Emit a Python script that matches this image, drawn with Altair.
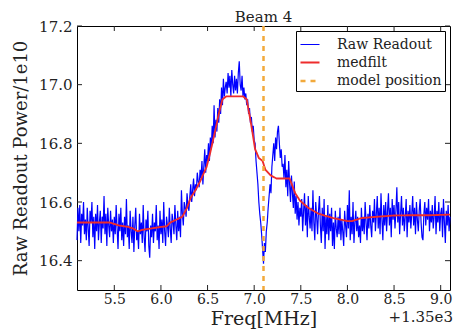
import altair as alt
import pandas as pd

# Raw readout (offset frequency in MHz, sampled every 0.01 MHz from 5.10)
raw_power = [
    16.47, 16.58, 16.50, 16.59, 16.46, 16.56, 16.52, 16.60, 16.49, 16.54,
    16.47, 16.58, 16.51, 16.45, 16.57, 16.53, 16.60, 16.48, 16.55, 16.44,
    16.56, 16.50, 16.59, 16.47, 16.53, 16.57, 16.46, 16.55, 16.51, 16.62,
    16.49, 16.56, 16.45, 16.58, 16.52, 16.48, 16.57, 16.50, 16.54, 16.46,
    16.55, 16.49, 16.59, 16.51, 16.44, 16.56, 16.50, 16.58, 16.47, 16.53,
    16.45, 16.55, 16.49, 16.61, 16.48, 16.52, 16.44, 16.57, 16.50, 16.46,
    16.55, 16.43, 16.52, 16.58, 16.47, 16.50, 16.44, 16.56, 16.49, 16.53,
    16.46, 16.59, 16.48, 16.43, 16.54, 16.50, 16.57, 16.45, 16.41, 16.52,
    16.48, 16.56, 16.46, 16.53, 16.50, 16.59, 16.47, 16.52, 16.44, 16.57,
    16.49, 16.54, 16.46, 16.60, 16.50, 16.45, 16.55, 16.52, 16.48, 16.58,
    16.51, 16.46, 16.56, 16.53, 16.49, 16.59, 16.52, 16.47, 16.57, 16.50,
    16.55,
    16.48, 16.64, 16.56, 16.52, 16.60, 16.58, 16.55, 16.63, 16.59, 16.57,
    16.62, 16.66, 16.60, 16.64, 16.68, 16.62, 16.66, 16.64, 16.70, 16.67,
    16.65, 16.71, 16.68, 16.74, 16.66, 16.72, 16.78, 16.70, 16.76, 16.74,
    16.80, 16.74, 16.82, 16.78, 16.86, 16.80, 16.93, 16.82, 16.88, 16.84,
    16.92, 16.87, 16.95, 16.90, 16.99, 16.93, 17.02, 16.96, 16.99, 17.01,
    16.97, 17.04, 16.99, 17.03, 16.96, 17.05, 17.00, 16.97, 17.03, 16.98,
    17.02, 16.97, 17.04, 17.08, 17.00, 16.98, 17.03, 16.96, 16.99, 16.95,
    16.97, 16.93, 16.95, 16.90, 16.92, 16.87, 16.89, 16.84, 16.86, 16.81,
    16.80, 16.74, 16.70, 16.66, 16.60, 16.56, 16.53, 16.49, 16.44, 16.39,
    16.46, 16.43, 16.50, 16.53, 16.58, 16.62, 16.66, 16.63, 16.72, 16.76,
    16.80, 16.74, 16.82, 16.78, 16.84, 16.86, 16.80, 16.75, 16.78, 16.72,
    16.73, 16.68, 16.76, 16.65, 16.71, 16.62, 16.74, 16.66, 16.60, 16.69,
    16.63, 16.58, 16.67, 16.56, 16.62, 16.54, 16.60, 16.52, 16.58, 16.55,
    16.61, 16.50, 16.57, 16.63, 16.52, 16.59, 16.48, 16.62, 16.55, 16.51,
    16.58, 16.50, 16.64, 16.53, 16.47, 16.60, 16.55, 16.49, 16.57, 16.62,
    16.52, 16.46, 16.58, 16.50, 16.61, 16.44, 16.55, 16.49, 16.59, 16.47,
    16.56, 16.50, 16.58, 16.45, 16.53, 16.44, 16.57, 16.51, 16.48, 16.55,
    16.49, 16.58, 16.47, 16.54, 16.50, 16.45, 16.57, 16.52, 16.48, 16.59,
    16.51, 16.64, 16.47, 16.55, 16.49, 16.60, 16.46, 16.53, 16.57, 16.50,
    16.55, 16.48, 16.52, 16.46, 16.58, 16.50, 16.55, 16.49, 16.60, 16.53,
    16.47, 16.56, 16.51, 16.59, 16.52, 16.48, 16.57, 16.53, 16.61, 16.50,
    16.56, 16.62, 16.51, 16.58, 16.49, 16.63, 16.54, 16.47, 16.59, 16.52,
    16.60, 16.50, 16.57, 16.63, 16.52, 16.58, 16.48, 16.61, 16.54, 16.59,
    16.51, 16.57, 16.65, 16.53, 16.60, 16.49, 16.56, 16.62, 16.52, 16.58,
    16.50, 16.55, 16.61, 16.48, 16.57, 16.53, 16.59, 16.51, 16.56, 16.62,
    16.52, 16.58, 16.49, 16.60, 16.54, 16.50, 16.57, 16.61, 16.53, 16.48,
    16.47, 16.56, 16.60, 16.52, 16.58, 16.54, 16.61, 16.50, 16.57, 16.53,
    16.59, 16.51, 16.55, 16.62, 16.49, 16.57, 16.53, 16.60, 16.50, 16.56,
    16.58, 16.48, 16.61, 16.53, 16.46, 16.57, 16.52, 16.59, 16.50, 16.55,
]
raw_freq = [round(5.10 + 0.01 * i, 2) for i in range(len(raw_power))]

# Median-filtered curve
med_freq = [5.10, 5.30, 5.45, 5.50, 5.55, 5.65, 5.70, 5.75, 5.80, 5.90, 6.00,
            6.06, 6.10, 6.20, 6.23, 6.28, 6.32, 6.37, 6.42, 6.49, 6.53, 6.58,
            6.62, 6.66, 6.70, 6.88, 6.92, 6.97, 7.01, 7.05, 7.09, 7.12, 7.18,
            7.24, 7.38, 7.44, 7.49, 7.58, 7.69, 7.85, 8.00, 8.05, 8.15, 8.25,
            8.50, 8.70, 8.90, 9.10]
med_power = [16.530, 16.530, 16.530, 16.525, 16.520, 16.515, 16.510, 16.500,
             16.505, 16.510, 16.515, 16.517, 16.530, 16.545, 16.550, 16.580,
             16.615, 16.640, 16.670, 16.720, 16.770, 16.840, 16.900, 16.950,
             16.960, 16.960, 16.950, 16.860, 16.780, 16.750, 16.740, 16.710,
             16.690, 16.680, 16.680, 16.630, 16.605, 16.580, 16.560, 16.545,
             16.535, 16.535, 16.545, 16.548, 16.554, 16.555, 16.555, 16.557]

model_freq = [7.10]

series_names = ["Raw Readout", "medfilt", "model position"]
series_colors = ["#0000ff", "#ee2c2c", "#f2a93b"]
series_dash = [[1, 0], [1, 0], [5, 5]]
series_width = [1.2, 2.5, 2.5]

x_ticks = [5.5, 6.0, 6.5, 7.0, 7.5, 8.0, 8.5, 9.0]
y_ticks = [16.4, 16.6, 16.8, 17.0, 17.2]

W, H = 373, 264
FONT = "DejaVu Serif"

raw_df = pd.DataFrame({"freq": raw_freq, "power": raw_power, "series": "Raw Readout"})
med_df = pd.DataFrame({"freq": med_freq, "power": med_power, "series": "medfilt"})
model_df = pd.DataFrame({"freq": model_freq, "series": "model position"})
xt_df = pd.DataFrame({"xt": x_ticks})
yt_df = pd.DataFrame({"yt": y_ticks})

xscale = alt.Scale(domain=[5.1, 9.1], nice=False, zero=False)
yscale = alt.Scale(domain=[16.3, 17.2], nice=False, zero=False)

color = alt.Color("series:N", title=None,
                  scale=alt.Scale(domain=series_names, range=series_colors),
                  legend=alt.Legend(orient="top-right", offset=5, symbolType="stroke",
                                    symbolSize=361, labelFont=FONT, labelFontSize=14,
                                    labelColor="#222", strokeColor="black", fillColor="white",
                                    padding=3, rowPadding=-2, labelOffset=16, cornerRadius=0))
dash = alt.StrokeDash("series:N", title=None,
                      scale=alt.Scale(domain=series_names, range=series_dash))
swidth = alt.StrokeWidth("series:N", title=None,
                         scale=alt.Scale(domain=series_names, range=series_width))

xenc = alt.X("freq:Q", scale=xscale,
             axis=alt.Axis(values=x_ticks, format=".1f", title="Freq[MHz]",
                           labelFont=FONT, labelFontSize=14, labelColor="#222",
                           labelPadding=2, titleFont=FONT, titleFontSize=19,
                           titleFontWeight="normal", titleColor="#222",
                           titleBaseline="alphabetic", titleY=34,
                           domain=False, ticks=False, grid=False))
yaxis = alt.Axis(values=y_ticks, format=".1f", title="Raw Readout Power/1e10",
                 labelFont=FONT, labelFontSize=15, labelColor="#222", labelPadding=5,
                 titleFont=FONT, titleFontSize=18, titleFontWeight="normal",
                 titleColor="#222", titlePadding=8, domain=False, ticks=False, grid=False)

raw = alt.Chart(raw_df).mark_line(interpolate="linear").encode(
    x=xenc, y=alt.Y("power:Q", scale=yscale, axis=yaxis),
    color=color, strokeDash=dash, strokeWidth=swidth)
med = alt.Chart(med_df).mark_line().encode(
    x=alt.X("freq:Q", scale=xscale), y=alt.Y("power:Q", scale=yscale),
    color=color, strokeDash=dash, strokeWidth=swidth)
model = alt.Chart(model_df).mark_rule().encode(
    x=alt.X("freq:Q", scale=xscale),
    color=color, strokeDash=dash, strokeWidth=swidth)

tick_col = "#222"
xt_bot = alt.Chart(xt_df).mark_rule(color=tick_col, strokeWidth=1).encode(
    x=alt.X("xt:Q", scale=xscale), y=alt.value(H), y2=alt.value(H - 5))
xt_top = alt.Chart(xt_df).mark_rule(color=tick_col, strokeWidth=1).encode(
    x=alt.X("xt:Q", scale=xscale), y=alt.value(0), y2=alt.value(5))
yt_left = alt.Chart(yt_df).mark_rule(color=tick_col, strokeWidth=1).encode(
    y=alt.Y("yt:Q", scale=yscale), x=alt.value(0), x2=alt.value(5))
yt_right = alt.Chart(yt_df).mark_rule(color=tick_col, strokeWidth=1).encode(
    y=alt.Y("yt:Q", scale=yscale), x=alt.value(W), x2=alt.value(W - 5))

offset_text = alt.Chart(pd.DataFrame({"t": ["+1.35e3"]})).mark_text(
    font=FONT, fontSize=15, color="#222", align="right", baseline="alphabetic").encode(
    text="t:N", x=alt.value(W + 3), y=alt.value(H + 32))

title_text = alt.Chart(pd.DataFrame({"t": ["Beam 4"]})).mark_text(
    font=FONT, fontSize=15, color="#222", align="center", baseline="alphabetic").encode(
    text="t:N", x=alt.value(W / 2), y=alt.value(-4))

chart = alt.layer(raw, med, model, xt_bot, xt_top, yt_left, yt_right, offset_text,
                  title_text).properties(
    width=W, height=H,
    padding={"left": 77, "top": 26, "right": 6, "bottom": 41},
    autosize=alt.AutoSizeParams(type="none"),
).configure(font=FONT).configure_view(stroke="black", strokeWidth=1).configure_axis(
    labelFont=FONT, titleFont=FONT).configure_legend(labelFont=FONT).resolve_scale(
    color="shared", strokeDash="shared", strokeWidth="shared")

chart.save("out.html", embed_options={"renderer": "svg", "actions": False})
